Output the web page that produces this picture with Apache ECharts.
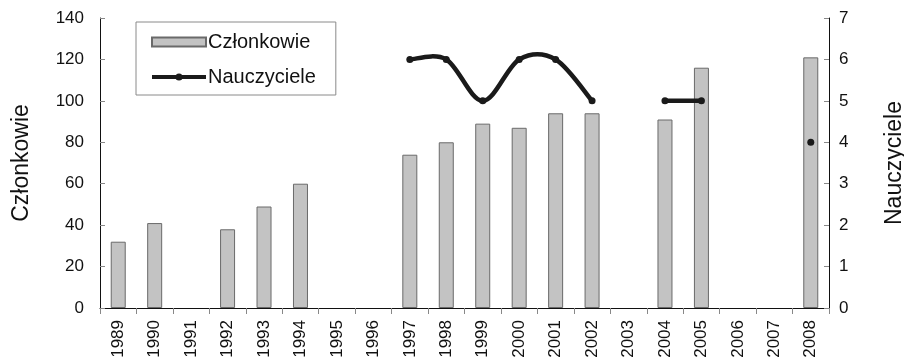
<!DOCTYPE html>
<html><head><meta charset="utf-8">
<script src="https://cdn.jsdelivr.net/npm/echarts@6/dist/echarts.min.js"></script>
<style>html,body{margin:0;padding:0;background:#fff}#c{width:904px;height:357px}</style>
</head><body><div id="c"></div>
<script>
const years = ['1989','1990','1991','1992','1993','1994','1995','1996','1997','1998','1999','2000','2001','2002','2003','2004','2005','2006','2007','2008'];
const czlonkowie = [32,41,null,38,49,60,null,null,74,80,89,87,94,94,null,91,116,null,null,121];
const nauczyciele = [null,null,null,null,null,null,null,null,6,6,5,6,6,5,null,5,5,null,null,4];
const leftTicks = [0,140,20];
const rightTicks = [0,7,1];
const font = 'Liberation Sans, Arial, sans-serif';
const lineColor = '#1a1a1a';

// Excel-like smoothed segments between adjacent non-null points
const curveData = [];
nauczyciele.forEach((v, i) => { if (v != null) curveData.push([i, v]); });
function val(i){ return (i >= 0 && i < nauczyciele.length) ? nauczyciele[i] : null; }
function renderCurve(params, api){
  const i = api.value(0);
  if (val(i + 1) == null) return null;
  const P = k => api.coord([k, val(k)]);
  const p0 = P(i), p1 = P(i + 1);
  const pPrev = val(i - 1) != null ? P(i - 1) : p0;
  const pNext = val(i + 2) != null ? P(i + 2) : p1;
  const t0 = [(p1[0] - pPrev[0]) / 6, (p1[1] - pPrev[1]) / 6];
  const t1 = [(pNext[0] - p0[0]) / 6, (pNext[1] - p0[1]) / 6];
  return {
    type: 'bezierCurve',
    shape: {x1:p0[0], y1:p0[1], x2:p1[0], y2:p1[1],
            cpx1:p0[0] + t0[0], cpy1:p0[1] + t0[1],
            cpx2:p1[0] - t1[0], cpy2:p1[1] - t1[1]},
    style: {stroke: lineColor, lineWidth: 4.5, fill: null, lineCap:'round'}
  };
}

const chart = echarts.init(document.getElementById('c'));
chart.setOption({
  animation:false,
  textStyle:{fontFamily:font},
  grid:{left:100,right:75,top:18,bottom:49,containLabel:false,outerBoundsMode:'none'},
  legend:{
    orient:'vertical',left:136,top:22,
    padding:[10,20,8,14],itemGap:15,
    borderColor:'#8a8a8a',borderWidth:1,
    itemWidth:54,itemHeight:9,
    textStyle:{fontSize:20,color:'#111',fontFamily:font,padding:[0,0,0,-3]},
    data:[
      {name:'Członkowie',icon:'rect'},
      {name:'Nauczyciele',lineStyle:{color:lineColor,width:4,opacity:1},itemStyle:{color:lineColor}}
    ]
  },
  xAxis:{
    type:'category',data:years,boundaryGap:true,
    axisLine:{lineStyle:{color:'#111',width:1}},
    axisTick:{show:true,inside:false,length:6,alignWithLabel:false,lineStyle:{color:'#888'}},
    axisLabel:{rotate:90,fontSize:17,color:'#111',margin:12,fontFamily:font,interval:0}
  },
  yAxis:[{
    type:'value',min:leftTicks[0],max:leftTicks[1],interval:leftTicks[2],
    name:'Członkowie',nameLocation:'middle',nameGap:67,nameRotate:90,
    nameTextStyle:{fontSize:23,color:'#111',fontFamily:font},
    axisLine:{show:true,lineStyle:{color:'#111'}},
    axisTick:{show:true,inside:true,length:5,lineStyle:{color:'#888'}},
    axisLabel:{fontSize:17,color:'#111',margin:16,fontFamily:font},
    splitLine:{show:false}
  },{
    type:'value',min:rightTicks[0],max:rightTicks[1],interval:rightTicks[2],position:'right',
    name:'Nauczyciele',nameLocation:'middle',nameGap:54,nameRotate:90,
    nameTextStyle:{fontSize:23,color:'#111',fontFamily:font},
    axisLine:{show:true,lineStyle:{color:'#111'}},
    axisTick:{show:true,inside:true,length:5,lineStyle:{color:'#888'}},
    axisLabel:{fontSize:17,color:'#111',margin:10,fontFamily:font},
    splitLine:{show:false}
  }],
  series:[{
    name:'Członkowie',type:'bar',data:czlonkowie,yAxisIndex:0,barWidth:15,
    itemStyle:{color:'#c3c3c3',borderColor:'#6a6a6a',borderWidth:1}
  },{
    name:'NauczycieleCurve',type:'custom',yAxisIndex:1,data:curveData,
    renderItem:renderCurve,encode:{x:0,y:1},z:3,silent:true
  },{
    name:'Nauczyciele',type:'line',data:nauczyciele,yAxisIndex:1,
    connectNulls:false,showSymbol:true,symbol:'circle',symbolSize:7,
    lineStyle:{color:lineColor,width:0,opacity:0},
    itemStyle:{color:lineColor},z:4
  }]
});
</script></body></html>
